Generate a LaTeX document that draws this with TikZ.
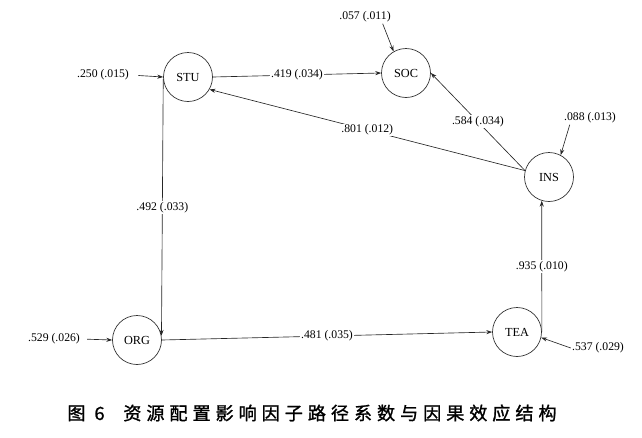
\documentclass[tikz,border=0pt]{standalone}
\usepackage{fontspec}
\setmainfont{Liberation Serif}
\newfontfamily\cjk[LetterSpace=27,FakeBold=1.2]{Noto Sans CJK SC}
\usetikzlibrary{arrows.meta,calc}

\begin{document}
\begin{tikzpicture}[
    x=0.03cm, y=-0.03cm,
    var/.style={draw=black!80, circle, line width=0.6pt, minimum size=1.47cm, inner sep=0pt, font=\rmfamily\fontsize{10.5}{12}\selectfont},
    lbl/.style={font=\rmfamily\fontsize{10}{12}\selectfont, inner sep=1pt},
    coef/.style={lbl, fill=white},
    arr/.style={-{Stealth[length=5pt,width=3.5pt]}, line width=0.55pt, draw=black!85}
]
    \useasboundingbox (0,0) rectangle (642,437);

    % --- Latent variables ---
    \node[var] (STU) at (188,77) {STU};
    \node[var] (SOC) at (406,73) {SOC};
    \node[var] (INS) at (549,177) {INS};
    \node[var] (ORG) at (137,340) {ORG};
    \node[var] (TEA) at (517,332) {TEA};

    % --- Residual terms ---
    \node[lbl] (eSTU) at (103,75) {.250 (.015)};
    \node[lbl] (eSOC) at (365,17) {.057 (.011)};
    \node[lbl] (eINS) at (590,118) {.088 (.013)};
    \node[lbl] (eORG) at (54,339) {.529 (.026)};
    \node[lbl] (eTEA) at (598,348) {.537 (.029)};
    \draw[arr, shorten <=7pt] (eSTU.east) -- (STU.west);
    \draw[arr] ([xshift=-8pt]eSOC.south east) -- (SOC.120);
    \draw[arr] ([xshift=6pt]eINS.south west) -- (INS.62);
    \draw[arr, shorten <=5pt] (eORG.east) -- (ORG.west);
    \draw[arr] (eTEA.west) -- (TEA.-13);

    % --- Path coefficients ---
    \draw[arr] (STU.east) -- node[coef] {.419 (.034)} (SOC.west);
    \draw[arr] (INS.165) -- node[coef] {.801 (.012)} (STU.330);
    \draw[arr] (INS.165) -- node[coef] {.584 (.034)} (SOC.east);
    \draw[arr] (STU.185) -- node[coef] {.492 (.033)} (ORG.10);
    \draw[arr] (ORG.east) -- node[coef] {.481 (.035)} (TEA.west);
    \draw[arr] (TEA.east) -- node[coef] {.935 (.010)} (INS.253);

    % --- Caption ---
    \node[font=\cjk\fontsize{15.5}{18}\selectfont] (cap) at (312,413) {图 6\hspace{16pt}资源配置影响因子路径系数与因果效应结构};
\end{tikzpicture}
\end{document}
